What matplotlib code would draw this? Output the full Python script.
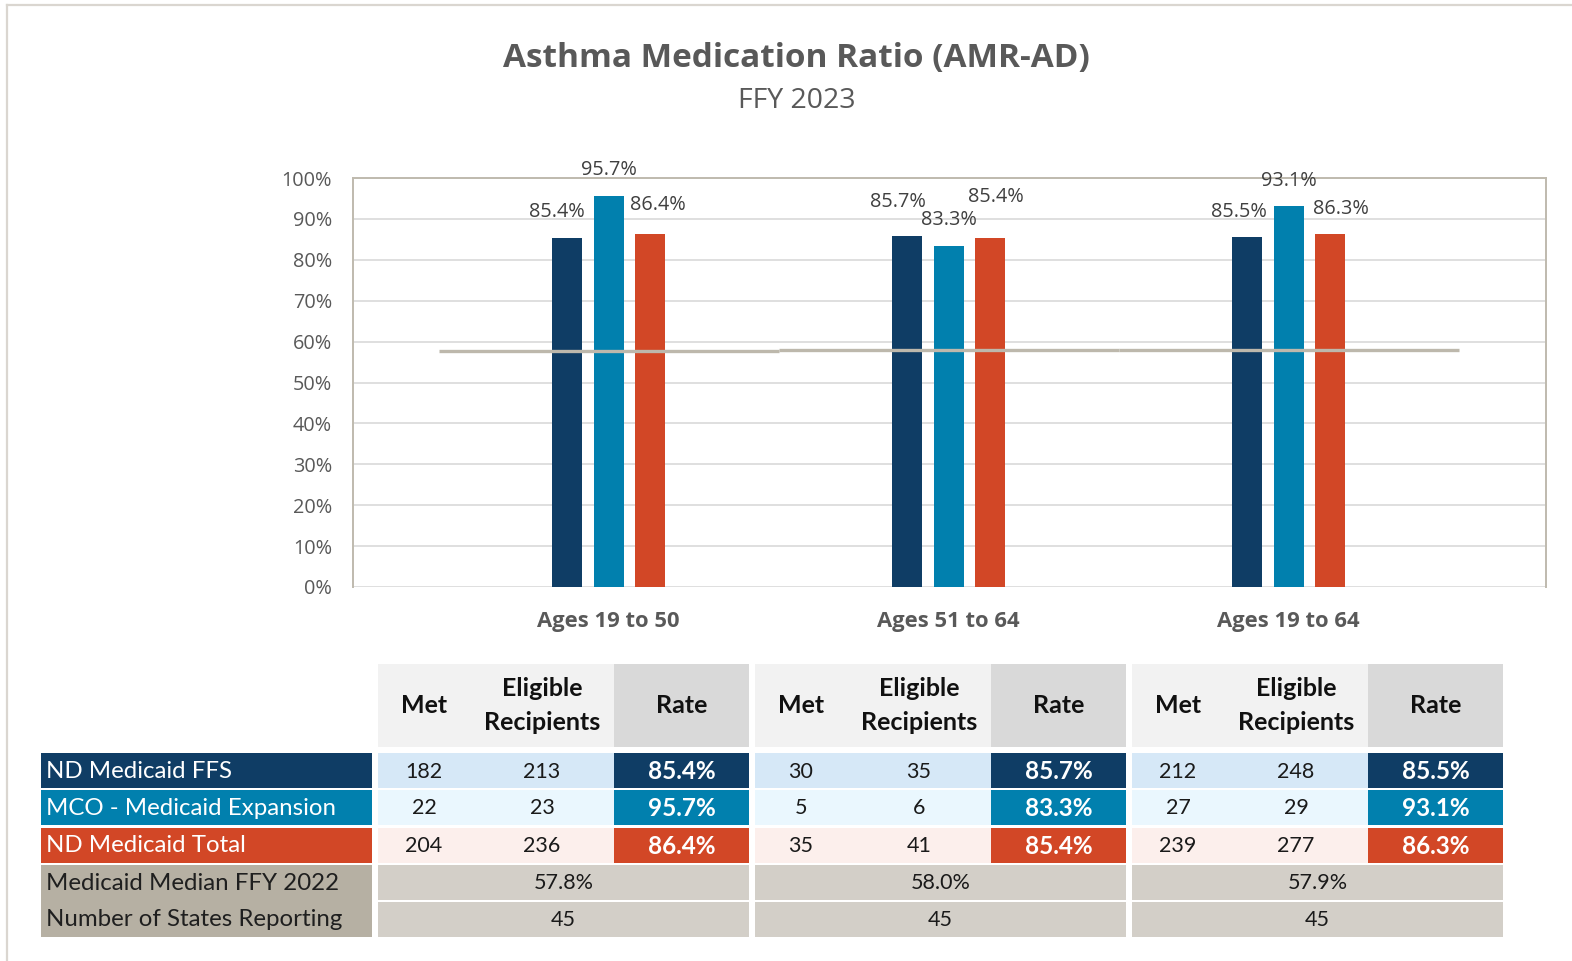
import matplotlib
matplotlib.use('Agg')
import matplotlib.pyplot as plt
from matplotlib.patches import Rectangle

plt.rcParams['font.family'] = ['Lato', 'DejaVu Sans']
chart_font = ['Open Sans', 'DejaVu Sans']

# ---- data ----
categories = ['Ages 19 to 50', 'Ages 51 to 64', 'Ages 19 to 64']
series_names = ['ND Medicaid FFS', 'MCO - Medicaid Expansion', 'ND Medicaid Total']
ffs_rate = [85.4, 85.7, 85.5]
mco_rate = [95.7, 83.3, 93.1]
total_rate = [86.4, 85.4, 86.3]
ffs_met = [182, 30, 212]
ffs_eligible = [213, 35, 248]
mco_met = [22, 5, 27]
mco_eligible = [23, 6, 29]
total_met = [204, 35, 239]
total_eligible = [236, 41, 277]
median_2022 = [57.8, 58.0, 57.9]
states_reporting = [45, 45, 45]

# ---- style ----
W, H = 1572, 961
navy = '#0F3D65'
teal = '#0180AE'
red = '#D24726'
row_bg = ['#D6E8F7', '#EAF7FE', '#FCEFEC']
median_bg = '#D3CFC8'
label_tan = '#B6B0A3'
line_col = '#BDB8AC'
border_col = '#BFBAAE'
grey_txt = '#595959'

series_rates = [ffs_rate, mco_rate, total_rate]
series_met = [ffs_met, mco_met, total_met]
series_elig = [ffs_eligible, mco_eligible, total_eligible]
series_cols = [navy, teal, red]
# label nudges (pixels) like Excel's placement
label_dx = [[-10, 0, 8], [-9, 0, 6], [-8, 0, 11]]
label_dy = [[26, 26, 29], [34, 26, 41], [25, 25, 25]]

fig = plt.figure(figsize=(W / 100, H / 100), dpi=100)

# background / table layer in pixel coordinates
tab = fig.add_axes([0, 0, 1, 1])
tab.set_xlim(0, W)
tab.set_ylim(H, 0)
tab.axis('off')
tab.plot([7, 7], [5, H], color='#DAD6D0', lw=1.6)
tab.plot([7, W], [5, 5], color='#DAD6D0', lw=1.6)

fig.text(796 / W, 1 - 58 / H, 'Asthma Medication Ratio (AMR-AD)', ha='center', va='center',
         fontsize=24, fontweight='bold', color=grey_txt, family=chart_font)
fig.text(797 / W, 1 - 101 / H, 'FFY 2023', ha='center', va='center', fontsize=20.5,
         color=grey_txt, family=chart_font)

# ---- bar chart ----
ax = fig.add_axes([353 / W, 1 - 587 / H, (1546 - 353) / W, (587 - 178) / H])
x = list(range(len(categories)))
offsets = [-0.122, 0, 0.122]
for j in range(3):
    xs = [i + offsets[j] for i in x]
    ax.bar(xs, series_rates[j], width=0.088, color=series_cols[j], zorder=2)
    for i, v in enumerate(series_rates[j]):
        ax.annotate(f'{v:.1f}%', (xs[i], v), xytext=(label_dx[i][j], label_dy[i][j]),
                    textcoords='offset pixels', ha='center', va='center',
                    fontsize=14.3, color='#404040', family=chart_font)

for i, m in enumerate(median_2022):
    ax.hlines(m, i - 0.5, i + 0.5, color=line_col, lw=2.4, zorder=3)

ax.set_xlim(-0.752, 2.757)
ax.set_ylim(0, 100)
ax.set_yticks(range(0, 101, 10))
ax.set_yticklabels([f'{t}%' for t in range(0, 101, 10)], family=chart_font)
ax.set_xticks(x)
ax.set_xticklabels(categories, fontweight='bold', family=chart_font)
ax.tick_params(axis='y', length=0, pad=15, labelsize=14.3, labelcolor=grey_txt)
ax.tick_params(axis='x', length=0, pad=17, labelsize=15.8, labelcolor=grey_txt)
ax.yaxis.grid(True, color='#D9D9D9', lw=1.2, zorder=0)
ax.set_axisbelow(True)
for s in ['left', 'top', 'right']:
    ax.spines[s].set_color(border_col)
    ax.spines[s].set_linewidth(1.4)
ax.spines['bottom'].set_visible(False)

# ---- table ----
group_x = [378, 755, 1132]
met_w, elig_w, rate_w = 92, 144, 135
head_top, head_h = 664, 83
row_tops = [753, 790, 827.5, 864.5, 901.5]
row_h = 35
lab_x0, lab_x1 = 40.5, 372.3
lab_fs = 17.3
num_fs = 15.5


def cell(x0, y0, w, h, color):
    tab.add_patch(Rectangle((x0, y0), w, h, facecolor=color, edgecolor='none'))


def put(xc, yc, s, **kw):
    tab.text(xc, yc, s, ha='center', va='center', **kw)


# label column
for r in range(3):
    cell(lab_x0, row_tops[r], lab_x1 - lab_x0, row_h, series_cols[r])
    tab.text(lab_x0 + 6, row_tops[r] + row_h / 2 + 1, series_names[r], ha='left', va='center',
             fontsize=lab_fs, color='white')
cell(lab_x0, row_tops[3], lab_x1 - lab_x0, row_tops[4] + row_h - row_tops[3], label_tan)
tab.text(lab_x0 + 6, row_tops[3] + row_h / 2 + 1, 'Medicaid Median FFY 2022', ha='left',
         va='center', fontsize=lab_fs, color='#1F1F1F')
tab.text(lab_x0 + 6, row_tops[4] + row_h / 2 + 1, 'Number of States Reporting', ha='left',
         va='center', fontsize=lab_fs, color='#1F1F1F')

for g, gx in enumerate(group_x):
    gw = met_w + elig_w + rate_w
    # header
    cell(gx, head_top, met_w + elig_w, head_h, '#F2F2F2')
    cell(gx + met_w + elig_w, head_top, rate_w, head_h, '#D9D9D9')
    hy = head_top + head_h / 2
    put(gx + met_w / 2, hy, 'Met', fontsize=18, fontweight='bold', color='#111111')
    put(gx + met_w + elig_w / 2, hy, 'Eligible\nRecipients', fontsize=18, fontweight='bold',
        color='#111111', linespacing=1.55)
    put(gx + met_w + elig_w + rate_w / 2, hy, 'Rate', fontsize=18, fontweight='bold',
        color='#111111')
    # series rows
    for r in range(3):
        y0 = row_tops[r]
        yc = y0 + row_h / 2 + 1
        cell(gx, y0, met_w + elig_w, row_h, row_bg[r])
        cell(gx + met_w + elig_w, y0, rate_w, row_h, series_cols[r])
        put(gx + met_w / 2, yc, str(series_met[r][g]), fontsize=num_fs, color='#1A1A1A')
        put(gx + met_w + elig_w / 2, yc, str(series_elig[r][g]), fontsize=num_fs,
            color='#1A1A1A')
        put(gx + met_w + elig_w + rate_w / 2, yc, f'{series_rates[r][g]:.1f}%', fontsize=17.5,
            fontweight='bold', color='white')
    # median / states rows
    cell(gx, row_tops[3], gw, row_h, median_bg)
    put(gx + gw / 2, row_tops[3] + row_h / 2 + 1, f'{median_2022[g]:.1f}%', fontsize=num_fs,
        color='#1A1A1A')
    cell(gx, row_tops[4], gw, row_h, median_bg)
    put(gx + gw / 2, row_tops[4] + row_h / 2 + 1, str(states_reporting[g]), fontsize=num_fs,
        color='#1A1A1A')

fig.savefig('out.png', dpi=100)
